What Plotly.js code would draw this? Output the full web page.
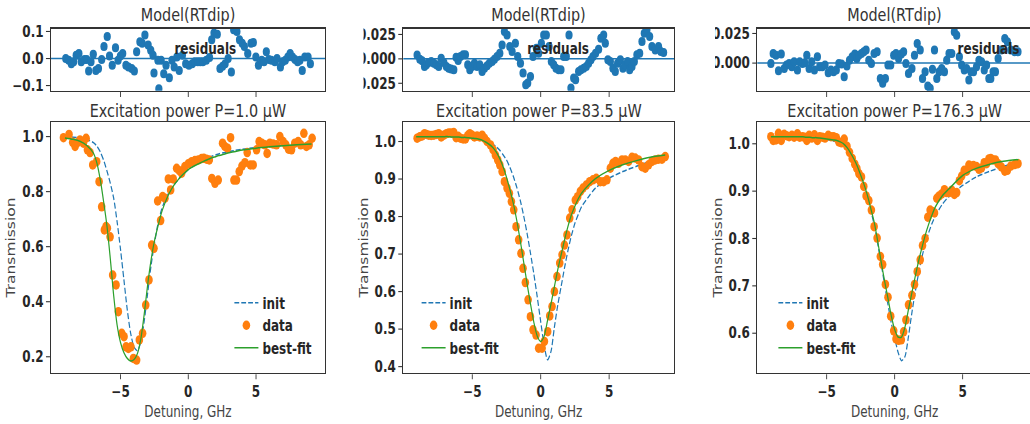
<!DOCTYPE html>
<html><head><meta charset="utf-8">
<script src="https://cdn.plot.ly/plotly-3.0.1.min.js"></script>
<style>
html,body{margin:0;padding:0;overflow:hidden;background:#fff;width:1030px;height:424px;}
#chart{width:1300px;height:424px;transform:scaleX(0.8);transform-origin:0 0;}
</style></head><body><div id="chart"></div>
<script>
// ---------- data ----------
const curveX = [-9.1,-8.5,-8,-7.5,-7,-6.75,-6.5,-6.25,-6,-5.75,-5.5,-5.25,-5,-4.75,-4.5,-4.25,-4,-3.75,-3.5,-3.25,-3,-2.75,-2.5,-2.25,-2,-1.75,-1.5,-1.25,-1,-0.75,-0.5,-0.25,0,0.25,0.5,0.75,1,1.25,1.5,1.75,2,2.25,2.5,2.75,3,3.5,4,5,6,7,8,9.1];

// panel 1 : P = 1.0 uW
const fit1 = [0.995,0.99,0.983,0.968,0.94,0.905,0.845,0.765,0.675,0.555,0.42,0.315,0.252,0.215,0.194,0.185,0.19,0.212,0.265,0.355,0.46,0.55,0.62,0.672,0.72,0.755,0.785,0.808,0.828,0.843,0.857,0.869,0.88,0.888,0.895,0.901,0.907,0.913,0.918,0.923,0.927,0.931,0.934,0.938,0.941,0.946,0.951,0.958,0.963,0.967,0.97,0.973];
const init1 = [1.0,0.998,0.995,0.99,0.978,0.966,0.945,0.915,0.875,0.83,0.775,0.69,0.59,0.48,0.37,0.285,0.235,0.222,0.255,0.33,0.43,0.53,0.61,0.68,0.73,0.765,0.79,0.81,0.828,0.843,0.857,0.869,0.88,0.889,0.897,0.905,0.912,0.918,0.924,0.929,0.933,0.937,0.94,0.943,0.946,0.95,0.954,0.96,0.964,0.968,0.97,0.972];
const data1X = [-9.21,-8.80,-8.53,-8.35,-8.18,-7.99,-7.74,-7.54,-7.44,-7.25,-7.05,-6.76,-6.58,-6.39,-6.19,-6.07,-5.97,-5.77,-5.58,-5.33,-5.16,-4.91,-4.74,-4.59,-4.42,-4.23,-4.05,-3.81,-3.61,-3.37,-3.14,-2.90,-2.70,-2.53,-2.26,-2.04,-1.89,-1.72,-1.47,-1.30,-1.11,-0.86,-0.66,-0.49,-0.25,0.00,0.25,0.49,0.74,0.98,1.15,1.35,1.55,1.74,1.97,2.21,2.53,2.70,2.90,3.12,3.37,3.56,3.76,3.96,4.18,4.35,4.59,4.79,5.04,5.23,5.43,5.65,5.82,6.02,6.27,6.51,6.76,7.00,7.20,7.40,7.62,7.86,8.11,8.30,8.53,8.72,8.92,9.14];
const data1Y = [0.996,1.008,0.979,0.964,0.978,0.988,0.976,0.994,0.952,0.942,0.897,0.909,0.836,0.745,0.661,0.673,0.667,0.636,0.497,0.461,0.364,0.285,0.273,0.236,0.230,0.236,0.194,0.188,0.261,0.285,0.388,0.479,0.606,0.594,0.766,0.695,0.782,0.776,0.846,0.806,0.846,0.885,0.876,0.867,0.891,0.901,0.909,0.913,0.915,0.920,0.921,0.918,0.915,0.848,0.830,0.842,0.976,0.964,0.958,0.996,0.842,0.842,0.873,0.893,0.905,0.942,0.897,0.897,0.952,0.982,0.976,0.970,0.939,0.976,0.973,0.970,1.000,0.982,0.970,0.954,0.952,0.976,0.982,0.970,1.012,0.964,0.970,0.994];
const res1X = [-9.04,-8.82,-8.63,-8.46,-8.27,-8.07,-7.90,-7.66,-7.49,-7.35,-7.18,-7.01,-6.82,-6.63,-6.39,-6.22,-5.98,-5.81,-5.61,-5.37,-5.18,-5.01,-4.84,-4.60,-4.41,-4.17,-3.98,-3.81,-3.57,-3.40,-3.20,-2.96,-2.77,-2.60,-2.53,-2.24,-2.17,-2.00,-1.81,-1.64,-1.40,-1.20,-1.04,-0.84,-0.67,-0.43,-0.19,0.05,0.29,0.48,0.70,0.89,1.08,1.33,1.57,1.73,1.90,2.14,2.34,2.53,2.72,2.94,3.18,3.35,3.59,3.78,3.98,4.14,4.39,4.63,4.80,4.99,5.18,5.42,5.59,5.76,5.95,6.14,6.39,6.55,6.80,6.96,7.16,7.35,7.52,7.69,7.88,8.07,8.24,8.41,8.60,8.84,9.01];
const res1Y = [0,-0.006,-0.019,-0.012,0.012,0.019,-0.012,-0.004,-0.004,-0.046,-0.012,0.016,-0.044,-0.037,-0.004,0.044,0.081,0.009,-0.025,0.04,-0.006,0.009,0.019,-0.025,-0.031,-0.037,-0.046,0.025,0.062,0.056,0.087,0.05,0.031,0.012,-0.054,-0.006,-0.112,-0.006,-0.056,-0.025,-0.071,-0.006,-0.031,0.006,-0.044,0.012,-0.019,-0.025,-0.019,-0.012,-0.012,-0.012,-0.012,-0.006,0.004,0.069,0.094,0.09,-0.037,-0.029,-0.019,0,-0.05,0.106,0.1,0.069,0.056,0.044,0.019,0.056,0.059,0.006,-0.025,-0.006,-0.012,0.025,-0.004,-0.006,-0.012,0,-0.031,-0.012,-0.006,0.006,0.019,0.006,-0.004,-0.012,-0.006,-0.044,0.006,0.006,-0.019];

// panel 2 : P = 83.5 uW
const fit2 = [1.013,1.013,1.013,1.013,1.013,1.013,1.012,1.012,1.012,1.011,1.011,1.01,1.009,1.008,1.006,1.003,0.998,0.992,0.984,0.972,0.955,0.933,0.905,0.872,0.835,0.79,0.737,0.68,0.622,0.568,0.518,0.481,0.467,0.481,0.523,0.567,0.613,0.659,0.699,0.739,0.775,0.805,0.828,0.848,0.863,0.884,0.901,0.923,0.938,0.949,0.958,0.964];
const init2 = [1.013,1.013,1.013,1.013,1.013,1.013,1.013,1.013,1.012,1.012,1.011,1.011,1.01,1.009,1.008,1.006,1.003,0.999,0.993,0.986,0.977,0.965,0.951,0.931,0.907,0.878,0.844,0.803,0.756,0.703,0.647,0.585,0.52,0.458,0.418,0.44,0.505,0.565,0.615,0.665,0.711,0.75,0.782,0.806,0.827,0.853,0.876,0.902,0.92,0.934,0.947,0.96];
const data2X = [-9.03,-8.83,-8.66,-8.49,-8.35,-8.18,-8.00,-7.81,-7.62,-7.45,-7.27,-7.08,-6.89,-6.72,-6.55,-6.35,-6.18,-6.03,-5.86,-5.67,-5.50,-5.33,-5.18,-5.01,-4.84,-4.65,-4.45,-4.28,-4.11,-3.92,-3.67,-3.48,-3.31,-3.14,-2.99,-2.82,-2.65,-2.46,-2.29,-2.14,-1.97,-1.80,-1.61,-1.44,-1.29,-1.12,-0.92,-0.75,-0.56,-0.34,-0.15,0.10,0.27,0.51,0.66,0.83,1.00,1.19,1.39,1.56,1.73,1.92,2.12,2.29,2.53,2.70,2.90,3.09,3.33,3.58,3.82,4.06,4.36,4.60,4.84,5.09,5.28,5.47,5.69,5.94,6.18,6.42,6.67,6.91,7.15,7.40,7.64,7.88,8.13,8.37,8.61,8.86,9.10];
const data2Y = [1.009,1.013,1.015,1.021,1.019,1.017,1.016,1.017,1.019,1.021,1.012,1.017,1.021,1.023,1.023,1.024,1.010,1.014,1.009,1.007,1.007,1.016,1.021,1.017,1.012,1.015,1.012,1.017,1.009,1.000,0.991,0.978,0.964,0.951,0.938,0.920,0.893,0.876,0.862,0.840,0.818,0.773,0.738,0.702,0.662,0.624,0.578,0.533,0.498,0.484,0.449,0.449,0.467,0.493,0.535,0.560,0.600,0.640,0.676,0.698,0.724,0.751,0.796,0.818,0.844,0.853,0.867,0.876,0.884,0.893,0.898,0.902,0.893,0.893,0.898,0.929,0.942,0.947,0.942,0.951,0.951,0.947,0.958,0.956,0.951,0.933,0.929,0.938,0.947,0.951,0.953,0.953,0.960];
const res2X = [-9.03,-8.83,-8.66,-8.49,-8.35,-8.18,-8.00,-7.81,-7.62,-7.45,-7.27,-7.08,-6.89,-6.72,-6.55,-6.35,-6.18,-6.03,-5.86,-5.67,-5.50,-5.33,-5.18,-5.01,-4.84,-4.65,-4.45,-4.28,-4.11,-3.92,-3.75,-3.55,-3.38,-3.19,-2.99,-2.82,-2.65,-2.46,-2.26,-2.09,-1.85,-1.68,-1.48,-1.29,-1.09,-0.95,-0.75,-0.56,-0.32,-0.15,0.05,0.22,0.41,0.61,0.78,0.95,1.12,1.31,1.48,1.68,1.87,2.07,2.21,2.41,2.55,2.77,2.94,3.14,3.33,3.50,3.67,3.82,4.01,4.23,4.40,4.60,4.72,4.91,5.09,5.28,5.45,5.62,5.82,6.01,6.18,6.35,6.50,6.67,6.84,7.03,7.23,7.40,7.57,7.76,7.96,8.13,8.37,8.61,8.78,8.98];
const res2Y = [0.004,-0.0003,-0.002,-0.0078,-0.0061,-0.0037,-0.0027,-0.0044,-0.0061,-0.0078,0.0007,-0.0037,-0.0078,-0.0095,-0.0105,-0.0112,0.0017,-0.0017,0.0024,0.0041,0.0041,-0.0061,-0.0112,-0.0078,-0.0044,-0.0078,-0.0061,-0.0129,-0.0095,-0.0071,-0.0044,-0.0027,-0.0003,0.0024,0.0058,0.0143,0.0279,0.0245,0.0126,0.0075,0.016,0.0024,-0.0044,-0.0146,-0.0265,-0.0248,-0.018,0.0024,0.0109,0.0058,0.016,0.0245,0.0245,0.0126,-0.0027,-0.0061,-0.0095,-0.0112,-0.0112,0.0024,0.0024,0.0245,-0.0299,-0.0197,-0.0214,-0.0129,-0.0112,-0.0095,-0.0078,-0.0044,-0.001,0.0024,0.0058,0.0099,0.0211,0.0245,0.016,-0.001,-0.0027,-0.0095,-0.0129,-0.0044,-0.001,-0.0095,-0.0061,-0.0027,-0.0112,-0.0078,-0.0027,0.0041,0.0058,0.0177,0.0262,0.0296,0.0228,0.0126,0.0092,0.0126,0.0075,0.0065];

// panel 3 : P = 176.3 uW
const fit3 = [1.015,1.015,1.015,1.015,1.015,1.015,1.014,1.014,1.013,1.013,1.012,1.011,1.01,1.009,1.008,1.007,1.004,1.0,0.992,0.981,0.968,0.953,0.934,0.914,0.891,0.863,0.834,0.795,0.752,0.712,0.675,0.637,0.608,0.592,0.592,0.612,0.648,0.683,0.718,0.751,0.78,0.807,0.83,0.85,0.867,0.89,0.905,0.933,0.948,0.957,0.963,0.967];
const init3 = [1.015,1.015,1.015,1.015,1.014,1.014,1.014,1.013,1.013,1.012,1.011,1.01,1.009,1.008,1.006,1.004,1.001,0.996,0.989,0.979,0.966,0.951,0.932,0.911,0.887,0.859,0.828,0.79,0.748,0.705,0.662,0.622,0.59,0.56,0.542,0.55,0.59,0.64,0.685,0.725,0.76,0.788,0.812,0.832,0.848,0.872,0.889,0.912,0.93,0.942,0.952,0.962];
const data3X = [-9.10,-8.93,-8.73,-8.54,-8.34,-8.12,-7.95,-7.76,-7.56,-7.39,-7.15,-6.98,-6.78,-6.61,-6.46,-6.29,-6.10,-5.90,-5.68,-5.51,-5.32,-5.12,-4.88,-4.68,-4.49,-4.29,-4.10,-3.90,-3.71,-3.51,-3.32,-3.12,-2.93,-2.78,-2.63,-2.44,-2.27,-2.10,-1.90,-1.71,-1.51,-1.29,-1.05,-0.88,-0.68,-0.49,-0.29,-0.07,0.10,0.29,0.49,0.66,0.83,1.02,1.27,1.46,1.66,1.88,2.05,2.24,2.44,2.61,2.78,2.93,3.10,3.27,3.46,3.66,3.83,4.00,4.20,4.39,4.56,4.76,4.93,5.12,5.29,5.46,5.61,5.80,6.02,6.20,6.39,6.59,6.76,6.93,7.07,7.24,7.41,7.61,7.85,8.10,8.29,8.54,8.83,9.07];
const data3Y = [1.015,1.007,1.008,1.022,1.007,1.020,1.017,1.015,1.018,1.014,1.021,1.014,1.015,1.014,1.007,1.018,1.012,1.019,1.007,1.015,1.014,1.012,1.018,1.015,1.015,1.013,1.004,1.002,1.010,0.995,0.982,0.969,0.957,0.948,0.937,0.930,0.910,0.890,0.880,0.860,0.825,0.801,0.762,0.745,0.703,0.676,0.636,0.605,0.588,0.585,0.586,0.603,0.628,0.660,0.680,0.703,0.730,0.755,0.785,0.800,0.845,0.860,0.857,0.854,0.885,0.890,0.894,0.903,0.897,0.897,0.902,0.893,0.897,0.922,0.932,0.944,0.942,0.955,0.953,0.954,0.952,0.946,0.949,0.960,0.958,0.968,0.969,0.966,0.966,0.958,0.951,0.942,0.944,0.953,0.956,0.958];
const res3X = data3X;
const res3Y = [-0.0003,0.0081,0.0067,-0.0065,0.0076,-0.0045,-0.0017,-0.0003,-0.0031,0.0011,-0.0059,0.0011,-0.0003,0.0003,0.0067,-0.0045,0.0011,-0.0059,0.0053,-0.0031,-0.0031,-0.0017,-0.0081,-0.0059,-0.0073,-0.0059,-0.0003,-0.0008,-0.0115,-0.0025,0.0025,0.0053,0.0076,0.0039,0.0067,0.0081,0.0096,0.011,0.0025,-0.0003,0.0081,0.0096,-0.0129,-0.0171,-0.0129,-0.0017,-0.0017,0.0067,0.0081,0.0039,0.0076,0.0096,-0.0003,-0.0087,-0.0045,0.0067,0.0166,0.011,-0.0129,-0.0073,-0.0194,-0.0213,-0.0053,0.011,-0.0129,-0.0073,-0.0045,-0.0073,0.0025,0.0081,0.0081,0.0264,0.0236,0.0053,-0.0017,-0.0059,-0.0045,-0.0143,-0.0073,-0.0073,-0.0031,0.0025,0.0011,-0.0059,-0.0017,-0.0129,-0.0129,-0.0073,-0.0073,0.0039,0.011,0.0208,0.018,0.011,0.0096,0.0096];

// tick values / labels
const xTickVals = [-5, 0, 5];
const xTickText = ['\u22125', '0', '5'];
const main1Ticks = [0.2, 0.4, 0.6, 0.8, 1.0];
const main1Text = ['0.2', '0.4', '0.6', '0.8', '1.0'];
const main2Ticks = [0.4, 0.5, 0.6, 0.7, 0.8, 0.9, 1.0];
const main2Text = ['0.4', '0.5', '0.6', '0.7', '0.8', '0.9', '1.0'];
const main3Ticks = [0.6, 0.7, 0.8, 0.9, 1.0];
const main3Text = ['0.6', '0.7', '0.8', '0.9', '1.0'];
const res1Ticks = [-0.1, 0, 0.1];
const res1Text = ['\u22120.1', '0.0', '0.1'];
const res2Ticks = [-0.025, 0, 0.025];
const res2Text = ['\u22120.025', '0.000', '0.025'];
const res3Ticks = [0, 0.025];
const res3Text = ['0.000', '0.025'];
const powers = ['1.0', '83.5', '176.3'];

// ---------- styling ----------
const C0 = '#1f77b4', C1 = '#ff7f0e', C2 = '#2ca02c';
const FONT = 'DejaVu Sans, Verdana, sans-serif';
const tickFont = {family: FONT, size: 15, color: '#262626', weight: 'bold'};
const W = 1300, H = 424, S = 0.8;           // drawn 1300 wide, squeezed to 1040
const fx = px => px / (W * S);
const fy = py => 1 - py / H;

const panels = [
  {x0: 51, x1: 325, xr: [-10.13, 10.09]},
  {x0: 403.3, x1: 674, xr: [-10.04, 9.74]},
  {x0: 757.3, x1: 1032, xr: [-10.1, 10.1]}
];
const mainDom = [fy(373), fy(122)];
const resDom = [fy(90.7), fy(28.5)];

function axBase(extra) {
  return Object.assign({
    showline: true, linecolor: '#333', linewidth: 1.3, mirror: true,
    ticks: 'outside', ticklen: 5, tickwidth: 1.1, tickcolor: '#333',
    showgrid: false, zeroline: false, tickfont: tickFont
  }, extra);
}

const curves = [[init1, fit1, data1X, data1Y, res1X, res1Y], [init2, fit2, data2X, data2Y, res2X, res2Y], [init3, fit3, data3X, data3Y, res3X, res3Y]];
const yMain = [[0.141, 1.053, main1Ticks, main1Text], [0.383, 1.052, main2Ticks, main2Text], [0.516, 1.046, main3Ticks, main3Text]];
const yRes = [[-0.119, 0.111, res1Ticks, res1Text], [-0.0326, 0.0311, res2Ticks, res2Text], [-0.0233, 0.0292, res3Ticks, res3Text]];
const legendPos = [288, 522, 968];
const resLabelX = [205, 558, 988];
const clipEdges = [[326.8, 363.5], [675.5, 715]];   // the reference crops these tick labels

const traces = [];
const layout = {
  width: W, height: H, margin: {l: 0, r: 0, t: 0, b: 0},
  paper_bgcolor: '#fff', plot_bgcolor: '#fff', autosize: false,
  font: {family: FONT, color: '#262626'},
  annotations: [], shapes: []
};

for (let i = 0; i < 3; i++) {
  const p = panels[i];
  const xm = 'x' + (2 * i + 1), ym = 'y' + (2 * i + 1);
  const xr = 'x' + (2 * i + 2), yr = 'y' + (2 * i + 2);
  const kxm = 'xaxis' + (2 * i + 1), kym = 'yaxis' + (2 * i + 1);
  const kxr = 'xaxis' + (2 * i + 2), kyr = 'yaxis' + (2 * i + 2);
  const lg = i === 0 ? 'legend' : 'legend' + (i + 1);
  const [ini, fit, dx, dy, rx, ry] = curves[i];

  traces.push({x: curveX, y: ini, xaxis: xm, yaxis: ym, mode: 'lines', name: 'init',
    line: {color: C0, width: 1.5, dash: '6px,2.6px', shape: 'spline', smoothing: 0.7}, legend: lg});
  traces.push({x: dx, y: dy, xaxis: xm, yaxis: ym, mode: 'markers', name: 'data',
    marker: {color: C1, size: 9.5}, legend: lg});
  traces.push({x: curveX, y: fit, xaxis: xm, yaxis: ym, mode: 'lines', name: 'best-fit',
    line: {color: C2, width: 1.5, shape: 'spline', smoothing: 0.7}, legend: lg});
  traces.push({x: rx, y: ry, xaxis: xr, yaxis: yr, mode: 'markers', showlegend: false,
    marker: {color: C0, size: 9}});

  const dom = [fx(p.x0), fx(p.x1)];
  layout[kxm] = axBase({domain: dom, range: p.xr, anchor: ym, tickvals: xTickVals, ticktext: xTickText,
    title: {text: 'Detuning, GHz', font: {family: FONT, size: 15, color: '#444'}, standoff: 6}});
  layout[kym] = axBase({domain: mainDom, range: [yMain[i][0], yMain[i][1]], anchor: xm,
    tickvals: yMain[i][2], ticktext: yMain[i][3],
    title: {text: 'Transmission', font: {family: FONT, size: 15.5, color: '#444'}, standoff: 4}});
  layout[kxr] = axBase({domain: dom, range: p.xr, anchor: yr, tickvals: xTickVals, showticklabels: false});
  layout[kyr] = axBase({domain: resDom, range: [yRes[i][0], yRes[i][1]], anchor: xr,
    tickvals: yRes[i][2], ticktext: yRes[i][3]});

  layout[lg] = {x: legendPos[i] / W, y: fy(286.5), xanchor: 'left', yanchor: 'top',
    bgcolor: 'rgba(0,0,0,0)', borderwidth: 0,
    font: {family: FONT, size: 15, color: '#262626', weight: 'bold'}};

  const cx = fx((p.x0 + p.x1) / 2);
  layout.annotations.push({text: 'Model(RTdip)', xref: 'paper', yref: 'paper', x: cx, y: fy(14),
    xanchor: 'center', yanchor: 'middle', showarrow: false, font: {family: FONT, size: 18, color: '#333'}});
  layout.annotations.push({text: 'Excitation power P=' + powers[i] + ' \u03bcW', xref: 'paper', yref: 'paper',
    x: cx, y: fy(110), xanchor: 'center', yanchor: 'middle', showarrow: false,
    font: {family: FONT, size: 18, color: '#333'}});
  layout.annotations.push({text: 'residuals', xref: 'paper', yref: 'paper', x: fx(resLabelX[i]), y: fy(49),
    xanchor: 'center', yanchor: 'middle', showarrow: false,
    font: {family: FONT, size: 15, color: '#262626', weight: 'bold'}});

  layout.shapes.push({type: 'line', xref: xr + ' domain', yref: yr, x0: 0, x1: 1, y0: 0, y1: 0,
    line: {color: C0, width: 1.5}, layer: 'above'});
}
clipEdges.forEach(([a, b]) => layout.shapes.push({type: 'rect', xref: 'paper', yref: 'paper',
  x0: fx(a), x1: fx(b), y0: fy(98), y1: 1, line: {width: 0}, fillcolor: '#fff', layer: 'above'}));

Plotly.newPlot('chart', traces, layout, {displayModeBar: false, staticPlot: true});
</script></body></html>
